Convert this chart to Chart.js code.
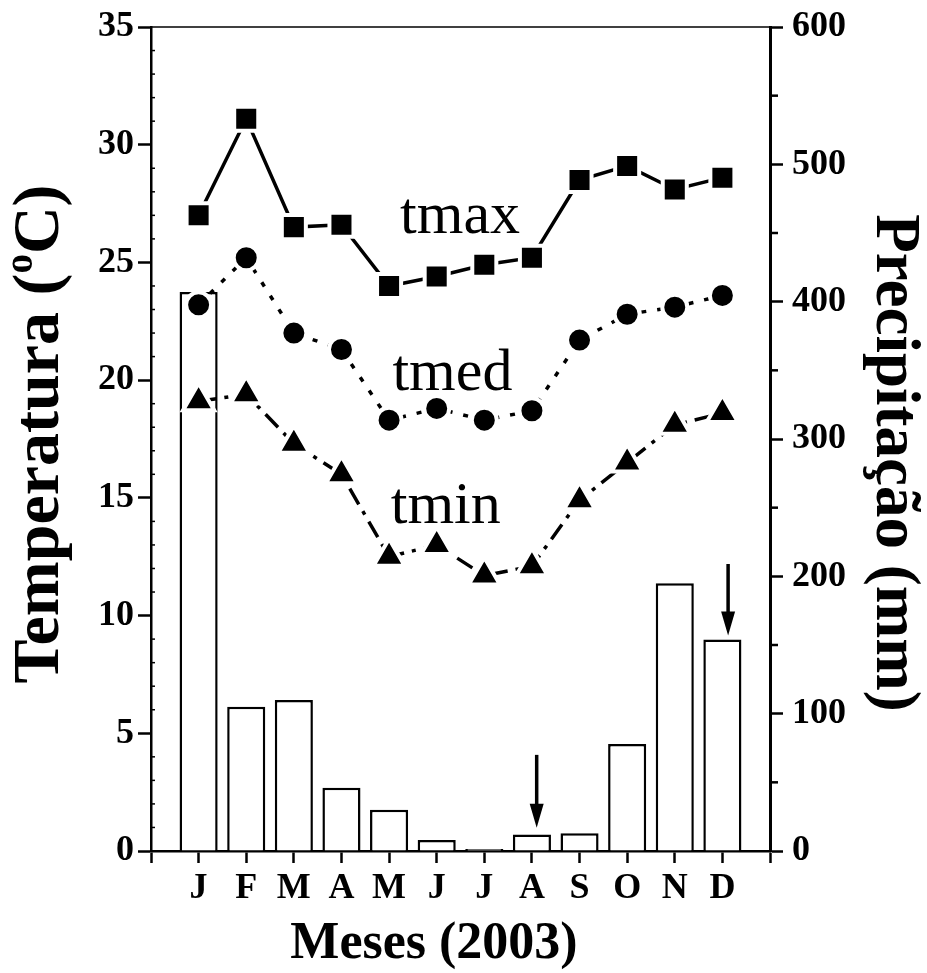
<!DOCTYPE html>
<html><head><meta charset="utf-8">
<script src="https://cdn.jsdelivr.net/npm/chart.js@4/dist/chart.umd.min.js"></script>
<style>html,body{margin:0;padding:0;background:#fff}canvas{display:block}</style>
</head><body>
<canvas id="c" width="927" height="973"></canvas>
<script>
// ---- data ----
const months = ['J','F','M','A','M','J','J','A','S','O','N','D'];
const tmax   = [27.0,31.1,26.5,26.6,24.0,24.4,24.9,25.2,28.5,29.1,28.1,28.6];
const tmed   = [23.2,25.2,22.0,21.3,18.3,18.8,18.3,18.7,21.7,22.8,23.1,23.6];
const tmin   = [19.1,19.4,17.3,16.0,12.5,13.0,11.7,12.1,14.9,16.5,18.1,18.6];
const precip = [407,105,110,46,30,8,1.5,12,13,78,195,154];
const tempTicks = [0,5,10,15,20,25,30,35];
const precipTicks = [0,100,200,300,400,500,600];
const seriesNames = ['tmax','tmed','tmin'];
const xTitle = 'Meses (2003)';
const yTitle = ['Temperatura (','o','C)'];
const y2Title = 'Precipitação (mm)';

// ---- annotation placement (not data) ----
const seriesLabelPos = [{x:6.49,y:26.25},{x:6.33,y:19.57},{x:6.19,y:13.95}];
const arrowPos = [{x:8.1,top:70,tip:17},{x:12.12,top:209,tip:157}];

const FONT = '"Liberation Serif","Times New Roman",Times,serif';
const pts = arr => arr.map((v,i)=>({x:i+1,y:v}));

const deco = {
  id:'deco',
  afterDraw(chart){
    const {ctx, chartArea:a, scales:{x,y,y2}} = chart;
    ctx.save();
    ctx.strokeStyle='#000'; ctx.fillStyle='#000';
    // top frame
    ctx.lineWidth=1.5;
    ctx.beginPath(); ctx.moveTo(a.left,a.top); ctx.lineTo(a.right,a.top); ctx.stroke();
    // left minor ticks (inward)
    ctx.lineWidth=1.5;
    for(let v=1; v<35; v++){ if(v%5===0) continue;
      const py=y.getPixelForValue(v);
      ctx.beginPath(); ctx.moveTo(a.left,py); ctx.lineTo(a.left+4,py); ctx.stroke(); }
    // right half ticks (outward)
    ctx.lineWidth=2.5;
    for(let v=50; v<600; v+=100){
      const py=y2.getPixelForValue(v);
      ctx.beginPath(); ctx.moveTo(a.right,py); ctx.lineTo(a.right+8,py); ctx.stroke(); }
    // arrows
    arrowPos.forEach(p=>{
      const px=x.getPixelForValue(p.x), pt=y2.getPixelForValue(p.top), pb=y2.getPixelForValue(p.tip);
      ctx.lineWidth=3.5;
      ctx.beginPath(); ctx.moveTo(px,pt); ctx.lineTo(px,pb-18); ctx.stroke();
      ctx.beginPath(); ctx.moveTo(px-7,pb-24); ctx.lineTo(px+7,pb-24); ctx.lineTo(px,pb); ctx.closePath(); ctx.fill();
    });
    // series labels
    ctx.font = '60px '+FONT; ctx.textAlign='center'; ctx.textBaseline='alphabetic';
    seriesNames.forEach((n,i)=>{
      ctx.fillText(n, x.getPixelForValue(seriesLabelPos[i].x), y.getPixelForValue(seriesLabelPos[i].y));
    });
    // x title
    ctx.font='bold 52px '+FONT;
    ctx.fillText(xTitle, 434, 958);
    // left title
    ctx.save();
    ctx.translate(58,434); ctx.rotate(-Math.PI/2);
    const big='bold 66px '+FONT, small='bold 39px '+FONT;
    ctx.font=big; const w1=ctx.measureText(yTitle[0]).width, w3=ctx.measureText(yTitle[2]).width;
    ctx.font=small; const w2=ctx.measureText(yTitle[1]).width;
    let sx=-(w1+w2+w3)/2;
    ctx.textAlign='left';
    ctx.font=big; ctx.fillText(yTitle[0],sx,0); sx+=w1;
    ctx.font=small; ctx.fillText(yTitle[1],sx,-26); sx+=w2;
    ctx.font=big; ctx.fillText(yTitle[2],sx,0);
    ctx.restore();
    // right title
    ctx.save();
    ctx.translate(877,463); ctx.rotate(Math.PI/2);
    ctx.font='bold 63px '+FONT; ctx.textAlign='center';
    ctx.fillText(y2Title,0,0);
    ctx.restore();
    ctx.restore();
  }
};

const tickFont = {family:FONT, size:36, weight:'bold', lineHeight:1};
new Chart(document.getElementById('c'), {
  data:{
    datasets:[
      {type:'line', label:'tmax', data:pts(tmax), yAxisID:'y', order:1,
       borderColor:'#000', borderWidth:3.5, pointStyle:'rect', pointRadius:17,
       pointBackgroundColor:'#000', pointBorderColor:'#fff', pointBorderWidth:4, tension:0},
      {type:'line', label:'tmed', data:pts(tmed), yAxisID:'y', order:2,
       borderColor:'#000', borderWidth:3.5, borderDash:[5,11], pointStyle:'circle', pointRadius:12.5,
       pointBackgroundColor:'#000', pointBorderColor:'#fff', pointBorderWidth:4, tension:0},
      {type:'line', label:'tmin', data:pts(tmin), yAxisID:'y', order:3,
       borderColor:'#000', borderWidth:3.5, borderDash:[18,8,4,8], pointStyle:'triangle', pointRadius:18,
       pointBackgroundColor:'#000', pointBorderColor:'#fff', pointBorderWidth:4, tension:0},
      {type:'bar', label:'Precipitação', data:pts(precip), yAxisID:'y2', order:10,
       backgroundColor:'#fff', borderColor:'#000', borderWidth:2.5,
       barPercentage:1, categoryPercentage:0.8}
    ]
  },
  options:{
    responsive:false, animation:false, devicePixelRatio:1,
    layout:{padding:{top:25,left:0,right:0,bottom:0}},
    plugins:{legend:{display:false}, tooltip:{enabled:false}},
    scales:{
      x:{type:'linear', position:'bottom', min:0, max:13, offset:false,
         afterBuildTicks:s=>{s.ticks=[0,...months.map((m,i)=>i+1),13].map(v=>({value:v}));},
         afterFit:s=>{s.height=122;},
         ticks:{font:{family:FONT, size:36, weight:'bold'}, color:'#000', padding:4, autoSkip:false, maxRotation:0,
                callback:v=>months[v-1]||''},
         grid:{offset:false, drawOnChartArea:false, drawTicks:true, tickLength:12, tickWidth:2.5, color:'#000'},
         border:{display:true, color:'#000', width:2.5}},
      y:{type:'linear', position:'left', min:0, max:35,
         afterBuildTicks:s=>{s.ticks=tempTicks.map(v=>({value:v}));},
         afterFit:s=>{s.width=151;},
         ticks:{font:tickFont, color:'#000', padding:4},
         grid:{drawOnChartArea:false, drawTicks:true, tickLength:13, tickWidth:2.5, color:'#000'},
         border:{display:true, color:'#000', width:2.5}},
      y2:{type:'linear', position:'right', min:0, max:600,
         afterBuildTicks:s=>{s.ticks=precipTicks.map(v=>({value:v}));},
         afterFit:s=>{s.width=157;},
         ticks:{font:tickFont, color:'#000', padding:9},
         grid:{drawOnChartArea:false, drawTicks:true, tickLength:13, tickWidth:2.5, color:'#000'},
         border:{display:true, color:'#000', width:3}}
    }
  },
  plugins:[deco]
});
</script>
</body></html>
